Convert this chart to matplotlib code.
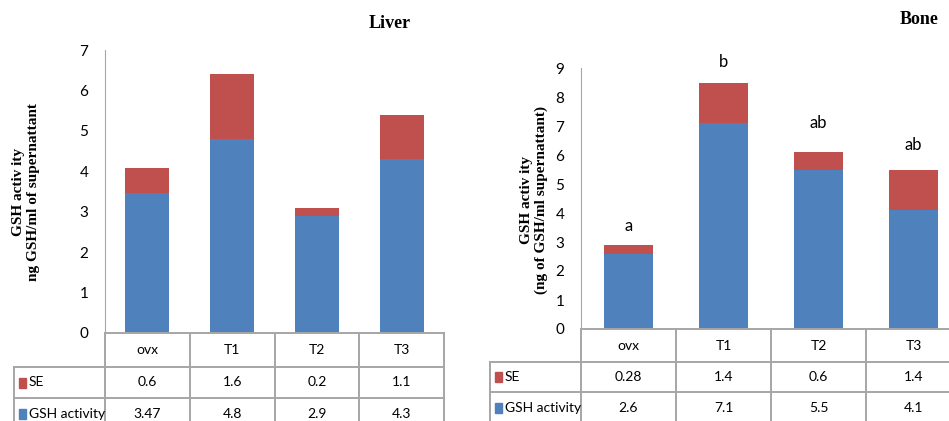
import matplotlib.pyplot as plt
from matplotlib.patches import Rectangle

groups = ['ovx', 'T1', 'T2', 'T3']

liver_gsh = [3.47, 4.8, 2.9, 4.3]
liver_se = [0.6, 1.6, 0.2, 1.1]
liver_gsh_txt = ['3.47', '4.8', '2.9', '4.3']
liver_se_txt = ['0.6', '1.6', '0.2', '1.1']

bone_gsh = [2.6, 7.1, 5.5, 4.1]
bone_se = [0.28, 1.4, 0.6, 1.4]
bone_gsh_txt = ['2.6', '7.1', '5.5', '4.1']
bone_se_txt = ['0.28', '1.4', '0.6', '1.4']
bone_letters = ['a', 'b', 'ab', 'ab']

BLUE = '#4F81BD'
RED = '#C0504D'
GRID = '#a6a6a6'
W, H = 949, 421

plt.rcParams['font.family'] = ['Lato', 'DejaVu Sans']

fig = plt.figure(figsize=(W / 100, H / 100), dpi=100)


def panel(left, right, top, bottom, ymax, gsh, se, gsh_txt, se_txt, label_left, rows):
    ax = fig.add_axes([left / W, (H - bottom) / H, (right - left) / W, (bottom - top) / H])
    x = range(len(groups))
    ax.bar(x, gsh, width=0.52, color=BLUE, zorder=2)
    ax.bar(x, se, width=0.52, bottom=gsh, color=RED, zorder=2)
    ax.set_xlim(-0.5, len(groups) - 0.5)
    ax.set_ylim(0, ymax)
    ax.set_yticks(range(ymax + 1))
    ax.tick_params(axis='y', length=0, pad=12, labelsize=11)
    ax.set_xticks([])
    for s in ['top', 'right', 'bottom']:
        ax.spines[s].set_visible(False)
    ax.spines['left'].set_color(GRID)

    # data table under the axis
    ah = bottom - top
    cw = (right - left) / len(groups)
    tr = ax.get_xaxis_transform()
    y0 = 0
    y1 = -rows[0] / ah
    y2 = -(rows[0] + rows[1]) / ah
    y3 = -(rows[0] + rows[1] + rows[2]) / ah
    xl = -0.5 - (left - label_left) / cw
    xr = len(groups) - 0.5
    kw = dict(color=GRID, lw=1.4, transform=tr, clip_on=False)
    ax.plot([-0.5, xr], [y0, y0], **kw)
    for yy in (y1, y2, y3):
        ax.plot([xl, xr], [yy, yy], **kw)
    for xx in [i - 0.5 for i in range(len(groups) + 1)]:
        ax.plot([xx, xx], [y0, y3], **kw)
    ax.plot([xl, xl], [y1, y3], **kw)
    fs = 10
    for i, g in enumerate(groups):
        ax.text(i, (y0 + y1) / 2, g, ha='center', va='center', fontsize=fs, transform=tr)
        ax.text(i, (y1 + y2) / 2, se_txt[i], ha='center', va='center', fontsize=fs, transform=tr)
        ax.text(i, (y2 + y3) / 2, gsh_txt[i], ha='center', va='center', fontsize=fs, transform=tr)
    for (ya, yb), c, t in [((y1, y2), RED, 'SE'), ((y2, y3), BLUE, 'GSH activity')]:
        ym = (ya + yb) / 2
        ax.add_patch(Rectangle((xl + 5 / cw, ym - 5 / ah), 7 / cw, 10 / ah, color=c,
                               transform=tr, clip_on=False))
        ax.text(xl + 15 / cw, ym, t, ha='left', va='center', fontsize=fs, transform=tr)
    return ax


ax1 = panel(105, 444, 50, 333, 7, liver_gsh, liver_se, liver_gsh_txt, liver_se_txt, 14, (34, 31, 31))
ax2 = panel(581, 961, 68, 329, 9, bone_gsh, bone_se, bone_gsh_txt, bone_se_txt, 490, (33, 30, 31))

# significance letters on bone bars
offsets = [14, 15, 21, 18]
for i, lab in enumerate(bone_letters):
    ax2.annotate(lab, (i, bone_gsh[i] + bone_se[i]), xytext=(0, offsets[i]),
                 textcoords='offset points', ha='center', va='center', fontsize=12)

serif = dict(family='Liberation Serif', fontweight='bold')
fig.text(390 / W, (H - 23) / H, 'Liver', ha='center', va='center', fontsize=13, **serif)
fig.text(919 / W, (H - 20) / H, 'Bone', ha='center', va='center', fontsize=13, **serif)
fig.text(26 / W, (H - 192) / H, 'GSH activ ity\nng GSH/ml of supernattant', rotation=90,
         ha='center', va='center', fontsize=11, linespacing=1.15, multialignment='center', **serif)
fig.text(534 / W, (H - 200) / H, 'GSH activ ity\n(ng of GSH/ml supernattant)', rotation=90,
         ha='center', va='center', fontsize=11, linespacing=1.15, multialignment='center', **serif)

fig.savefig('out.png', dpi=100)
